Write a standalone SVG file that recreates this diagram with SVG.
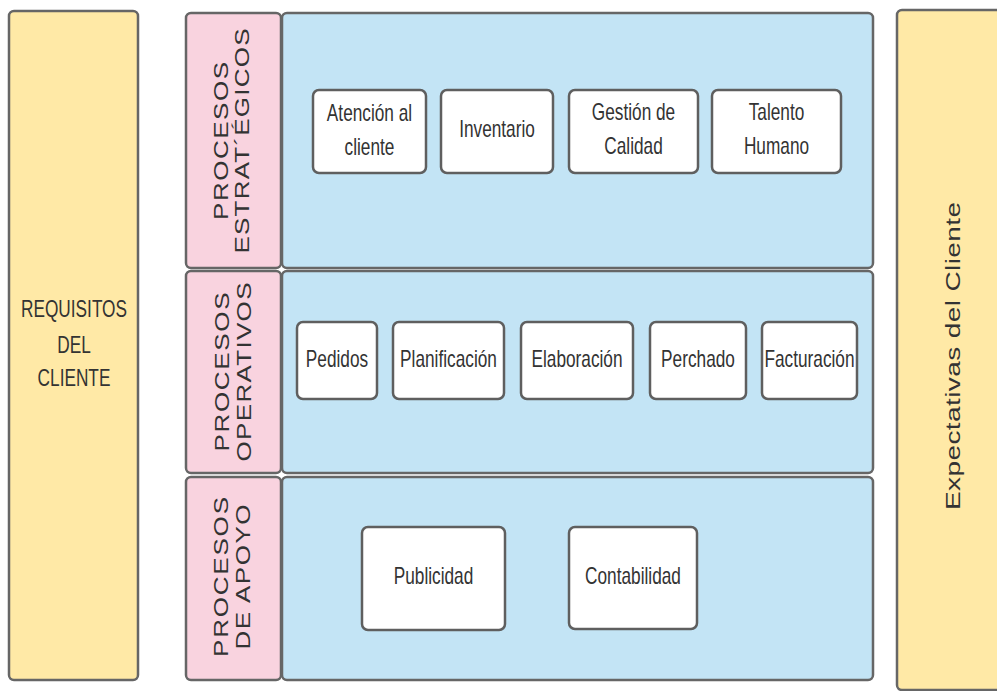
<svg xmlns="http://www.w3.org/2000/svg" width="997" height="691" viewBox="0 0 997 691">
<style>
.y{fill:#FFE9A6;stroke:#666;stroke-width:2.5}
.p{fill:#F9D3DF;stroke:#666;stroke-width:2.5}
.b{fill:#C3E4F5;stroke:#666;stroke-width:2.5}
.w{fill:#FFFFFF;stroke:#5f5f5f;stroke-width:2.5}
text{font-family:"Liberation Sans",Arial,sans-serif;fill:#333;text-anchor:middle}
.t{font-size:23px}
.v{font-size:26px}
.e{font-size:28px}
</style>
<rect width="997" height="691" fill="#fff"/>
<g id="requisitos">
<rect class="y" x="9" y="11" width="129" height="669" rx="5"/>
<text class="t" transform="translate(74,317) scale(0.75,1)">REQUISITOS</text>
<text class="t" transform="translate(74,352.5) scale(0.75,1)">DEL</text>
<text class="t" transform="translate(74,386) scale(0.75,1)">CLIENTE</text>
</g>
<g id="expectativas">
<rect class="y" x="897" y="10" width="115" height="680" rx="5"/>
<text class="e" transform="translate(960,356) scale(0.75,1) rotate(-90)" textLength="308" lengthAdjust="spacing">Expectativas del Cliente</text>
</g>
<g id="lane-estrategicos">
<rect class="p" x="186" y="13" width="95" height="255" rx="5"/>
<rect class="b" x="282" y="13" width="591" height="255" rx="5"/>
<text class="v" transform="translate(228,141) scale(0.75,1) rotate(-90)" textLength="158" lengthAdjust="spacing">PROCESOS</text>
<text class="v" transform="translate(249,141) scale(0.75,1) rotate(-90)" textLength="225" lengthAdjust="spacing">ESTRAT´ÉGICOS</text>
</g>
<g id="lane-operativos">
<rect class="p" x="186" y="271" width="95" height="202" rx="5"/>
<rect class="b" x="282" y="271" width="591" height="202" rx="5"/>
<text class="v" transform="translate(229,372) scale(0.75,1) rotate(-90)" textLength="159" lengthAdjust="spacing">PROCESOS</text>
<text class="v" transform="translate(251,372) scale(0.75,1) rotate(-90)" textLength="179" lengthAdjust="spacing">OPERATIVOS</text>
</g>
<g id="lane-apoyo">
<rect class="p" x="186" y="477" width="95" height="203" rx="5"/>
<rect class="b" x="282" y="477" width="591" height="203" rx="5"/>
<text class="v" transform="translate(228,577) scale(0.75,1) rotate(-90)" textLength="160" lengthAdjust="spacing">PROCESOS</text>
<text class="v" transform="translate(250,577) scale(0.75,1) rotate(-90)" textLength="145" lengthAdjust="spacing">DE APOYO</text>
</g>
<g id="atencion">
<rect class="w" x="313" y="90" width="113" height="83" rx="6"/>
<text class="t" transform="translate(369.5,121) scale(0.75,1)">Atención al</text>
<text class="t" transform="translate(369.5,155) scale(0.75,1)">cliente</text>
</g>
<g id="inventario">
<rect class="w" x="441" y="90" width="112" height="83" rx="6"/>
<text class="t" transform="translate(497,137) scale(0.75,1)">Inventario</text>
</g>
<g id="gestion">
<rect class="w" x="569" y="90" width="129" height="83" rx="6"/>
<text class="t" transform="translate(633.5,120) scale(0.75,1)">Gestión de</text>
<text class="t" transform="translate(633.5,154) scale(0.75,1)">Calidad</text>
</g>
<g id="talento">
<rect class="w" x="712" y="90" width="129" height="83" rx="6"/>
<text class="t" transform="translate(776.5,120) scale(0.75,1)">Talento</text>
<text class="t" transform="translate(776.5,154) scale(0.75,1)">Humano</text>
</g>
<g id="pedidos">
<rect class="w" x="297" y="322" width="80" height="77" rx="6"/>
<text class="t" transform="translate(337,367) scale(0.75,1)">Pedidos</text>
</g>
<g id="planificacion">
<rect class="w" x="393" y="322" width="111" height="77" rx="6"/>
<text class="t" transform="translate(448.5,367) scale(0.75,1)">Planificación</text>
</g>
<g id="elaboracion">
<rect class="w" x="521" y="322" width="112" height="77" rx="6"/>
<text class="t" transform="translate(577,367) scale(0.75,1)">Elaboración</text>
</g>
<g id="perchado">
<rect class="w" x="650" y="322" width="96" height="77" rx="6"/>
<text class="t" transform="translate(698,367) scale(0.75,1)">Perchado</text>
</g>
<g id="facturacion">
<rect class="w" x="762" y="322" width="95" height="77" rx="6"/>
<text class="t" transform="translate(809.5,367) scale(0.75,1)">Facturación</text>
</g>
<g id="publicidad">
<rect class="w" x="362" y="527" width="143" height="103" rx="6"/>
<text class="t" transform="translate(433.5,584) scale(0.75,1)">Publicidad</text>
</g>
<g id="contabilidad">
<rect class="w" x="569" y="527" width="128" height="102" rx="6"/>
<text class="t" transform="translate(633,584) scale(0.75,1)">Contabilidad</text>
</g>
<g id="connectors"></g>
</svg>
